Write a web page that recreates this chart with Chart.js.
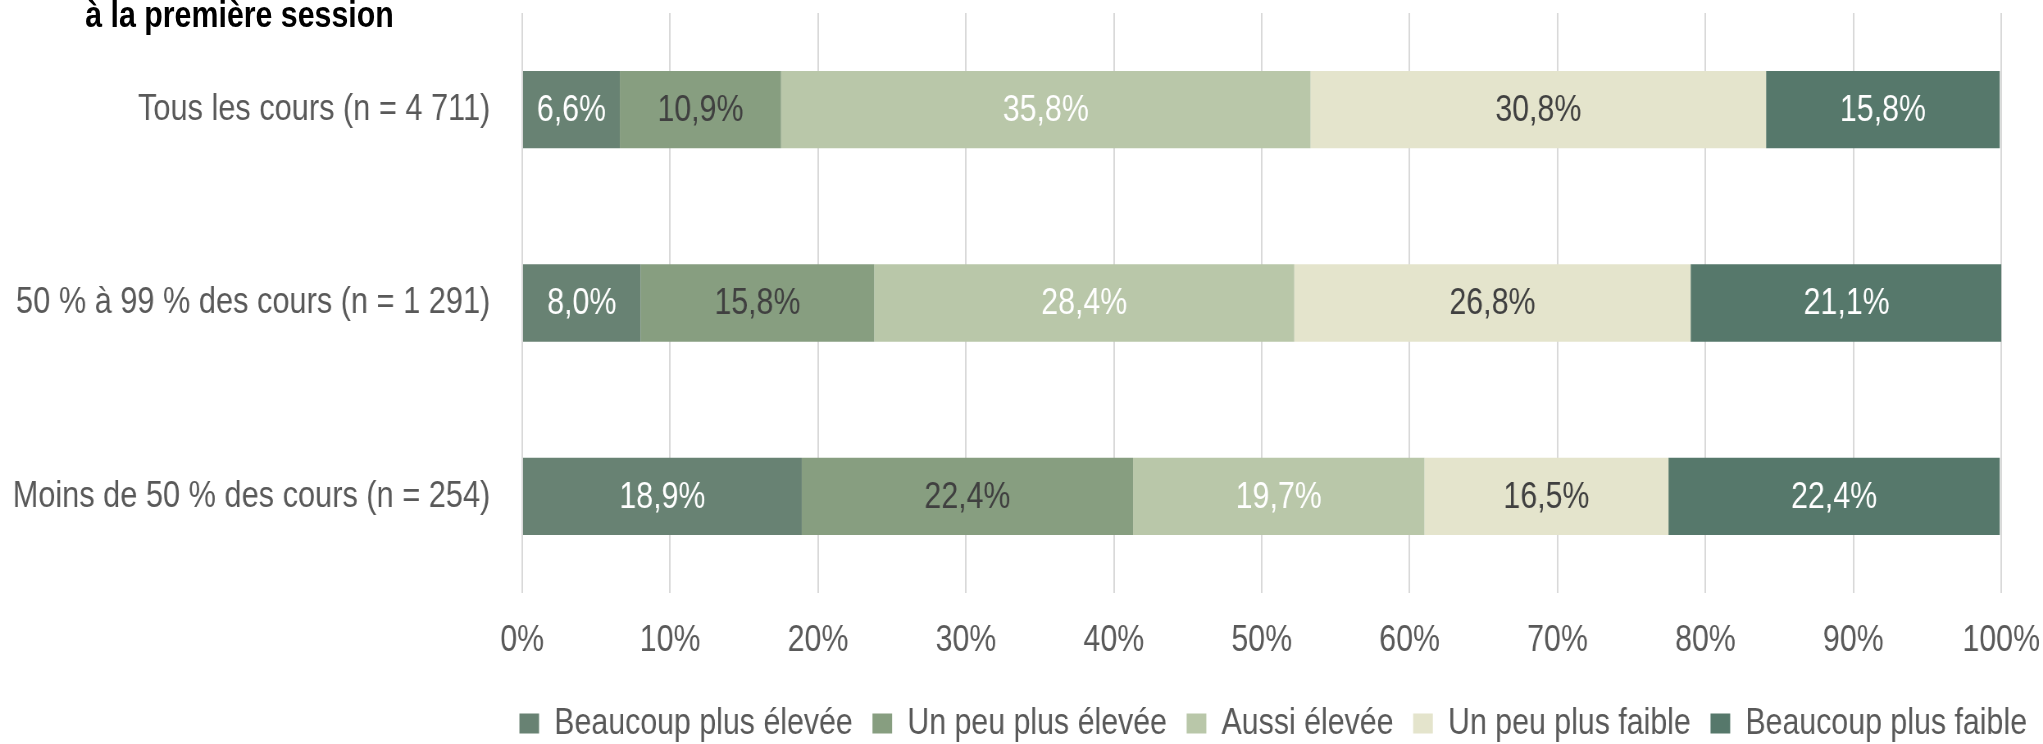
<!DOCTYPE html>
<html lang="fr">
<head>
<meta charset="utf-8">
<script src="https://cdn.jsdelivr.net/npm/chart.js@4/dist/chart.umd.min.js"></script>
<style>
  html, body { margin: 0; padding: 0; background: #fff; overflow: hidden; }
  /* police étroite : pas d'Arial Narrow installée, on resserre tout horizontalement */
  #cadre {
    position: relative; width: 2492px; height: 744px;
    transform: scaleX(0.81983); transform-origin: 0 0;
  }
  #titre {
    position: absolute; left: 104px; top: -6px;
    font: bold 37px "Liberation Sans", Arial, sans-serif;
    color: #000; white-space: nowrap;
  }
</style>
</head>
<body>
<div id="cadre">
  <canvas id="graphique"></canvas>
  <div id="titre">à la première session</div>
</div>
<script>
const categories = ['Tous les cours (n = 4 711)', '50 % à 99 % des cours (n = 1 291)', 'Moins de 50 % des cours (n = 254)'];
const seriesNames = ['Beaucoup plus élevée', 'Un peu plus élevée', 'Aussi élevée', 'Un peu plus faible', 'Beaucoup plus faible'];

const beaucoupPlusElevee = [6.6, 8.0, 18.9];
const unPeuPlusElevee = [10.9, 15.8, 22.4];
const aussiElevee = [35.8, 28.4, 19.7];
const unPeuPlusFaible = [30.8, 26.8, 16.5];
const beaucoupPlusFaible = [15.8, 21.1, 22.4];

const xTickValues = [0, 10, 20, 30, 40, 50, 60, 70, 80, 90, 100];

const seriesColors = ['#688273', '#879e80', '#b9c7a9', '#e4e4cc', '#56786b'];
const labelColors = ['#ffffff', '#404040', '#ffffff', '#404040', '#ffffff'];

const FONT = '"Liberation Sans", Arial, sans-serif';
const gris = '#595959';

const seriesValues = [beaucoupPlusElevee, unPeuPlusElevee, aussiElevee, unPeuPlusFaible, beaucoupPlusFaible];

// pourcentages au centre de chaque segment
const etiquettes = {
  id: 'etiquettes',
  afterDatasetsDraw(chart) {
    const ctx = chart.ctx;
    ctx.save();
    ctx.font = '37px ' + FONT;
    ctx.textAlign = 'center';
    ctx.textBaseline = 'middle';
    chart.data.datasets.forEach((ds, i) => {
      const meta = chart.getDatasetMeta(i);
      ctx.fillStyle = labelColors[i];
      meta.data.forEach((bar, j) => {
        const { x, y, base } = bar.getProps(['x', 'y', 'base'], true);
        ctx.fillText(ds.data[j].toFixed(1).replace('.', ',') + '%', (x + base) / 2, y + 1);
      });
    });
    ctx.restore();
  }
};

// légende centrée sous la zone du graphique
const placeLegende = {
  id: 'placeLegende',
  afterLayout(chart) {
    const l = chart.legend, a = chart.chartArea;
    const dx = (a.left + a.right) / 2 - (l.left + l.right) / 2 + 14;
    l.left += dx;
    l.right += dx;
    l.top += 8;
    l.bottom += 8;
  }
};

new Chart(document.getElementById('graphique'), {
  type: 'bar',
  data: {
    labels: categories,
    datasets: seriesNames.map((name, i) => ({
      label: name,
      data: seriesValues[i],
      backgroundColor: seriesColors[i],
      borderWidth: 0,
      categoryPercentage: 0.8,
      barPercentage: 0.5
    }))
  },
  options: {
    indexAxis: 'y',
    responsive: true,
    maintainAspectRatio: false,
    animation: false,
    layout: { padding: { top: 13, right: 51, left: 0, bottom: 0 } },
    scales: {
      x: {
        stacked: true,
        min: 0,
        max: 100,
        afterBuildTicks(scale) { scale.ticks = xTickValues.map(v => ({ value: v })); },
        afterFit(scale) {
          scale.height = 80;
          scale.paddingLeft = 0;
          scale.paddingRight = 0;
        },
        grid: { color: '#d9d9d9', lineWidth: 2, drawTicks: false },
        border: { display: false },
        ticks: {
          color: gris,
          padding: 26,
          font: { family: FONT, size: 37 },
          callback: v => v + '%'
        }
      },
      y: {
        stacked: true,
        afterFit(scale) {
          scale.width = 637;
          scale.paddingTop = 0;
          scale.paddingBottom = 0;
        },
        grid: { display: false, drawTicks: false },
        border: { display: false },
        ticks: {
          color: gris,
          padding: 39,
          font: { family: FONT, size: 37.5 }
        }
      }
    },
    plugins: {
      legend: {
        position: 'bottom',
        labels: {
          boxWidth: 24,
          boxHeight: 20,
          padding: 24,
          color: gris,
          font: { family: FONT, size: 37 }
        }
      },
      tooltip: { enabled: false }
    }
  },
  plugins: [etiquettes, placeLegende]
});
</script>
</body>
</html>
